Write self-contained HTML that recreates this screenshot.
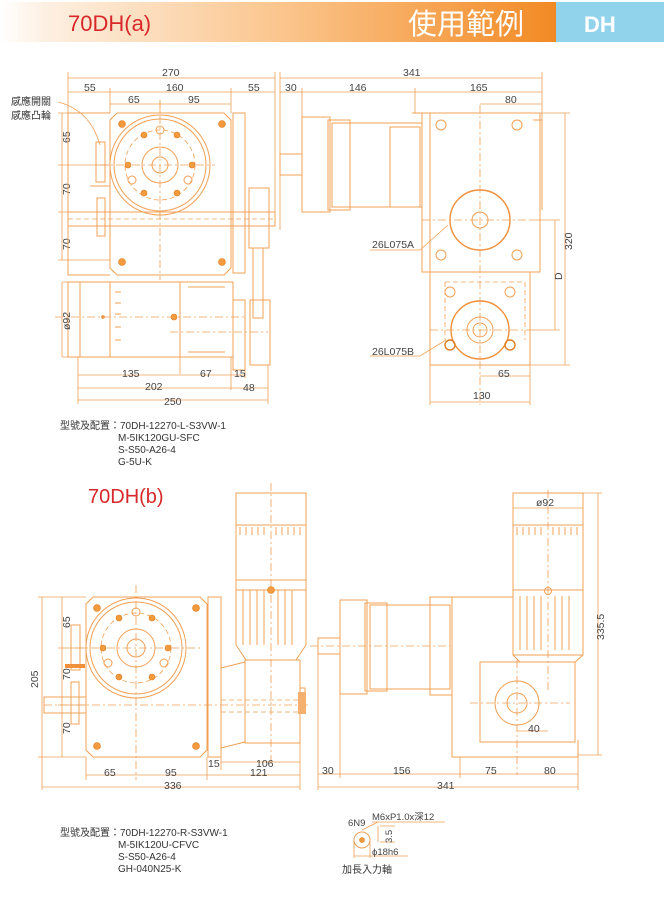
<!DOCTYPE html>
<html><head><meta charset="utf-8"><style>
html,body{margin:0;padding:0;background:#fff;width:664px;height:900px;overflow:hidden}
svg{display:block}
.l{fill:none;stroke:#f0a055;stroke-width:1}
.d{fill:none;stroke:#f0a055;stroke-width:0.8}
.c{fill:none;stroke:#f0a055;stroke-width:0.8;stroke-dasharray:8 3 2 3}
.h{fill:none;stroke:#f0a055;stroke-width:0.8;stroke-dasharray:5 3}
.b{fill:#f29a3c;stroke:#e07d20;stroke-width:0.6}
text{font-family:"Liberation Sans","Noto Sans CJK TC",sans-serif;fill:#444;font-size:10.5px}
.t{font-size:10px;fill:#333}
</style></head><body>
<svg width="664" height="900" viewBox="0 0 664 900">
<defs>
<linearGradient id="g" x1="0" x2="1"><stop offset="0" stop-color="#fff"/><stop offset="0.08" stop-color="#fdf0e2"/><stop offset="0.5" stop-color="#fbc68e"/><stop offset="1" stop-color="#f28a24"/></linearGradient>
</defs>
<!-- header -->
<rect x="0" y="2" width="556" height="40" fill="url(#g)"/>
<rect x="556" y="2" width="108" height="40" fill="#92d3ec"/>
<text x="68" y="31" style="font-size:22px;fill:#d8282a">70DH(a)</text>
<text x="408" y="34" style="font-size:29px;fill:#fff;font-family:'Noto Sans CJK TC',sans-serif">使用範例</text>
<text x="584" y="32" style="font-size:22px;fill:#fff;font-weight:bold">DH</text>

<!-- ===== VIEW A LEFT ===== -->
<g>
<!-- dims -->
<path class="d" d="M68 78H275M68 92H275M110 104H231M68 72V118M275 72V212M110 88V113M231 88V113M160 100V113"/>
<text x="162" y="76">270</text><text x="84" y="91">55</text><text x="166" y="91">160</text><text x="248" y="91">55</text>
<text x="128" y="103">65</text><text x="188" y="103">95</text>
<text x="11" y="105" class="t">感應開關</text><text x="11" y="119" class="t">感應凸輪</text>
<path class="d" d="M58 113H110M58 165H110M58 212H110M58 260H110M62 113V260"/>
<text transform="translate(70,143) rotate(-90)">65</text>
<text transform="translate(70,195) rotate(-90)">70</text>
<text transform="translate(70,250) rotate(-90)">70</text>
<!-- housing -->
<path class="l" d="M117 113H224L231 120V268L224 275H117L110 268V120Z"/>
<path class="l" d="M68 113H110M68 113V275H110"/>
<rect class="l" x="233" y="113" width="12" height="160"/>
<circle class="l" cx="160" cy="165" r="50"/><circle class="l" cx="160" cy="165" r="46"/>
<circle class="h" cx="160" cy="165" r="35"/>
<circle class="l" cx="160" cy="165" r="18"/><circle class="l" cx="160" cy="165" r="8"/>
<g class="b"><circle cx="122" cy="124" r="3.5"/><circle cx="222" cy="124" r="3.5"/><circle cx="122" cy="262" r="3.5"/><circle cx="222" cy="262" r="3.5"/>
<circle cx="144" cy="135" r="3"/><circle cx="177" cy="135" r="3"/><circle cx="128" cy="165" r="3"/><circle cx="192" cy="165" r="3"/><circle cx="144" cy="193" r="3"/><circle cx="177" cy="193" r="3"/></g>
<circle class="l" cx="160" cy="130" r="4"/><circle class="l" cx="132" cy="180" r="4"/><circle class="l" cx="188" cy="180" r="4"/>
<path class="c" d="M160 100V280M100 165H215"/>
<!-- sensor -->
<rect class="l" x="96" y="142" width="9" height="40"/><path class="l" d="M90 186H110"/>
<rect class="l" x="97" y="198" width="8" height="38"/>
<rect class="l" x="68" y="212" width="207" height="14"/>
<path class="h" d="M68 219H275"/>
<path class="d" d="M58 102Q90 110 100 145"/>
<!-- pulley -->
<rect class="l" x="249" y="188" width="20" height="60"/><rect class="l" x="253" y="248" width="10" height="70"/>
<rect class="l" x="250" y="300" width="20" height="65"/>
<rect class="l" x="233" y="300" width="12" height="70"/>
<!-- motor -->
<rect class="l" x="68" y="282" width="12" height="75"/><rect class="l" x="80" y="282" width="30" height="75"/>
<rect class="l" x="110" y="282" width="70" height="75"/>
<rect class="l" x="180" y="282" width="53" height="75"/>
<path class="l" d="M188 287H225M188 352H225M115 292h6M115 303h6M115 314h6M115 327h6M115 340h6"/>
<circle class="b" cx="174" cy="317" r="3"/><circle class="b" cx="103" cy="317" r="1.5"/>
<path class="c" d="M55 317H245M170 332H268"/>
<path class="d" d="M62 282H68M62 357H68M62 282V357"/>
<text transform="translate(70,330) rotate(-90)">ø92</text>
<path class="d" d="M78 357V404M180 357V374M231 357V390M245 370V378M268 365V404M78 375H245M78 388H268M78 400H268"/>
<text x="122" y="377">135</text><text x="200" y="377">67</text><text x="234" y="377">15</text>
<text x="145" y="390">202</text><text x="243" y="391">48</text><text x="164" y="405">250</text>
</g>

<!-- ===== VIEW A RIGHT ===== -->
<g>
<path class="d" d="M280 78H542M280 92H542M480 104H542M280 72V230M302 88V117M415 88V113M542 72V120"/>
<text x="403" y="76">341</text><text x="285" y="91">30</text><text x="349" y="91">146</text><text x="470" y="91">165</text><text x="505" y="103">80</text>
<rect class="l" x="280" y="154" width="22" height="21"/>
<rect class="l" x="302" y="117" width="28" height="95"/>
<rect class="l" x="328" y="120" width="22" height="90"/>
<rect class="l" x="332" y="123" width="90" height="84"/>
<rect class="l" x="390" y="127" width="30" height="80"/>
<path class="l" d="M412 113H540V272H422V113M430 113V365H530V272"/>
<path class="l" d="M533 120H542V210"/>
<circle class="l" cx="441" cy="125" r="5"/><circle class="l" cx="517" cy="125" r="5"/>
<circle class="l" cx="441" cy="255" r="5"/><circle class="l" cx="517" cy="255" r="5"/>
<circle cx="480" cy="220" r="30" fill="none" stroke="#f0903a" stroke-width="1.4"/>
<circle class="l" cx="480" cy="220" r="8"/>
<path class="h" d="M445 282H525V340M445 282V340"/>
<circle cx="480" cy="330" r="29" fill="none" stroke="#f0903a" stroke-width="1.4"/>
<circle class="l" cx="480" cy="330" r="13"/><circle class="l" cx="480" cy="330" r="7"/>
<circle class="l" cx="450" cy="292" r="5"/><circle class="l" cx="510" cy="292" r="5"/>
<circle class="b" cx="450" cy="345" r="5" style="fill:none;stroke-width:1.4"/><circle class="b" cx="510" cy="345" r="5" style="fill:none;stroke-width:1.4"/>
<path class="c" d="M480 105V405M422 220H530M430 330H530"/>
<path class="d" d="M530 220H560M530 330H560M555 220V330M540 113H570M530 365H570M565 113V365"/>
<text transform="translate(572,250) rotate(-90)">320</text>
<text transform="translate(562,280) rotate(-90)">D</text>
<path class="d" d="M370 250H420L448 225M370 356H420L446 340"/>
<text x="372" y="248">26L075A</text><text x="372" y="355">26L075B</text>
<path class="d" d="M430 365V405M530 365V405M480 376H530M430 402H530"/>
<text x="498" y="377">65</text><text x="473" y="399">130</text>
</g>

<!-- model text A -->
<text x="60" y="429" class="t">型號及配置：70DH-12270-L-S3VW-1</text>
<text x="118" y="441" class="t">M-5IK120GU-SFC</text>
<text x="118" y="453" class="t">S-S50-A26-4</text>
<text x="118" y="465" class="t">G-5U-K</text>

<text x="88" y="503" style="font-size:20px;fill:#d8282a">70DH(b)</text>

<!-- ===== VIEW B LEFT ===== -->
<g>
<path class="d" d="M38 597H86M38 757H86M42 597V757M58 648H86M58 705H86M62 597V757"/>
<text transform="translate(38,688) rotate(-90)">205</text>
<text transform="translate(70,628) rotate(-90)">65</text>
<text transform="translate(70,680) rotate(-90)">70</text>
<text transform="translate(70,734) rotate(-90)">70</text>
<path class="l" d="M93 597H200L207 604V750L200 757H93L86 750V604Z"/>
<rect class="l" x="208" y="597" width="13" height="160"/>
<circle class="l" cx="136" cy="648" r="50"/><circle class="l" cx="136" cy="648" r="46"/>
<circle class="h" cx="136" cy="648" r="35"/>
<circle class="l" cx="136" cy="648" r="19"/><circle class="l" cx="136" cy="648" r="9"/>
<g class="b"><circle cx="97" cy="608" r="3.5"/><circle cx="196" cy="608" r="3.5"/><circle cx="97" cy="746" r="3.5"/><circle cx="196" cy="746" r="3.5"/>
<circle cx="119" cy="618" r="3"/><circle cx="152" cy="618" r="3"/><circle cx="103" cy="648" r="3"/><circle cx="168" cy="648" r="3"/><circle cx="119" cy="677" r="3"/><circle cx="152" cy="677" r="3"/></g>
<circle class="l" cx="136" cy="612" r="4"/><circle class="l" cx="108" cy="663" r="4"/><circle class="l" cx="164" cy="663" r="4"/>
<path class="c" d="M136 585V780M75 648H200M44 705H310"/>
<rect class="l" x="71" y="625" width="9" height="45"/><rect x="65" y="664" width="20" height="4" fill="#f0903a"/>
<rect class="l" x="71" y="682" width="8" height="42"/>
<rect class="l" x="44" y="697" width="42" height="16"/>
<path class="h" d="M221 700H300M221 712H300"/>
<!-- gearhead + motor -->
<path class="l" d="M221 668L245 662V742L221 748Z"/>
<rect class="l" x="245" y="660" width="55" height="83"/>
<rect class="l" x="300" y="688" width="5" height="25"/><rect x="298" y="692" width="8" height="22" fill="#f5b070"/>
<path class="l" d="M246 660L236 645V580H306V645L296 660"/>
<rect class="l" x="236" y="493" width="70" height="32"/>
<rect class="l" x="236" y="525" width="70" height="55"/>
<path class="l" d="M240 527v8M246 527v8M252 527v8M258 527v8M264 527v8M276 527v8M282 527v8M288 527v8M294 527v8M300 527v8M243 590V645M250 590V645M257 590V645M264 590V645M278 590V645M285 590V645M292 590V645M236 590H306"/>
<circle class="b" cx="271" cy="590" r="3.5"/>
<path class="c" d="M271 483V765"/>
<path class="d" d="M86 757V780M207 757V780M221 757V770M300 742V790M42 757V790M221 762H300M86 775H300M42 787H300"/>
<text x="208" y="767">15</text><text x="256" y="767">106</text>
<text x="104" y="776">65</text><text x="165" y="776">95</text><text x="250" y="776">121</text><text x="164" y="789">336</text>
</g>

<!-- ===== VIEW B RIGHT ===== -->
<g>
<rect class="l" x="318" y="638" width="22" height="16"/>
<rect class="l" x="340" y="600" width="27" height="94"/>
<rect class="l" x="365" y="603" width="22" height="88"/>
<rect class="l" x="370" y="605" width="80" height="84"/>
<rect class="l" x="430" y="597" width="22" height="98"/>
<path class="l" d="M452 597H513M452 597V757H578V740M452 757"/>
<rect class="l" x="480" y="662" width="95" height="80"/>
<circle class="l" cx="517" cy="703" r="22"/><circle class="l" cx="517" cy="703" r="10"/>
<path class="c" d="M310 646H450M470 703H570M517 660V775M548 490V690"/>
<rect class="l" x="513" y="493" width="70" height="32"/>
<rect class="l" x="513" y="525" width="70" height="130"/>
<path class="l" d="M513 590H583M520 596V650M527 596V650M534 596V650M541 596V650M555 596V650M562 596V650M569 596V650M513 655L520 662H575L583 655M517 527v8M523 527v8M529 527v8M535 527v8M541 527v8M553 527v8M559 527v8M565 527v8M571 527v8M577 527v8"/>
<circle class="l" cx="548" cy="591" r="3.5"/>
<path class="d" d="M513 508H583M583 493H602M578 755H602M598 493V755"/>
<text x="536" y="506">ø92</text>
<text transform="translate(604,640) rotate(-90)">335.5</text>
<path class="d" d="M517 731H548"/><text x="528" y="732">40</text>
<path class="d" d="M318 646V790M340 694V778M460 757V778M578 757V790M318 774H578M318 787H578"/>
<text x="322" y="774">30</text><text x="393" y="774">156</text><text x="485" y="774">75</text><text x="544" y="774">80</text><text x="437" y="789">341</text>
</g>

<!-- model text B -->
<text x="60" y="836" class="t">型號及配置：70DH-12270-R-S3VW-1</text>
<text x="118" y="848" class="t">M-5IK120U-CFVC</text>
<text x="118" y="860" class="t">S-S50-A26-4</text>
<text x="118" y="872" class="t">GH-040N25-K</text>

<!-- shaft detail -->
<text x="348" y="826" style="font-size:9.5px">6N9</text>
<text x="372" y="820" style="font-size:9.5px">M6xP1.0x深12</text>
<path class="d" d="M372 822H445M362 830L378 822"/>
<circle class="l" cx="362" cy="840" r="8"/><circle class="b" cx="362" cy="840" r="2.5"/>
<path class="d" d="M354 840V858M370 840V858M354 856H408M378 826V842M380 826H395M380 842H395"/>
<text transform="translate(392,843) rotate(-90)" style="font-size:9.5px">3.5</text>
<text x="372" y="855" style="font-size:9.5px">ϕ18h6</text>
<text x="342" y="873" class="t">加長入力軸</text>
</svg>
</body></html>
